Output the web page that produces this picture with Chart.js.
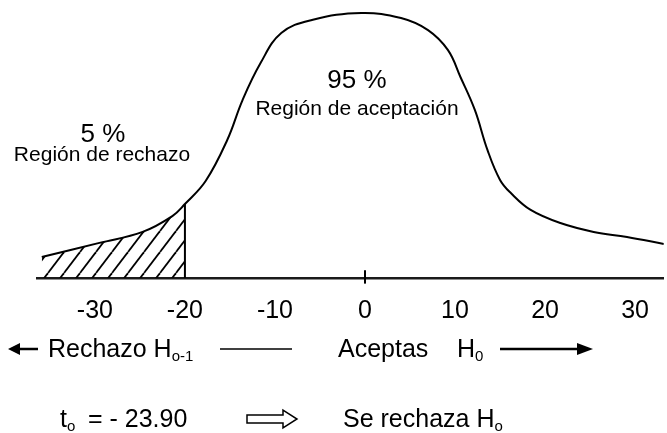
<!DOCTYPE html>
<html>
<head>
<meta charset="utf-8">
<script src="https://cdn.jsdelivr.net/npm/chart.js@4.4.0/dist/chart.umd.min.js"></script>
<style>
  html, body { margin: 0; padding: 0; background: #fff; }
  canvas { display: block; }
</style>
</head>
<body>
<canvas id="tchart" width="667" height="433"></canvas>
<script>
// curve (t value, height of the density in %)
const curveX = [-35.9, -29.5, -24.7, -21.4, -20, -17.7, -15.3, -13.6, -11.6, -9.3, -5.9, -0.4, 4.0, 7.0, 9.2, 10.6, 12.2, 13.6, 15.0, 16.2, 18.4, 21.7, 25.4, 29.1, 33.2];
const curveY = [7.8, 13.1, 17.2, 23.1, 27.6, 36.2, 51.5, 66.4, 80.2, 91.4, 96.3, 98.9, 97.0, 92.5, 85.1, 75.0, 62.7, 47.8, 36.6, 31.7, 25.4, 20.5, 17.2, 15.3, 12.7];
const criticalT = -20;
const tickValues = [-30, -20, -10, 0, 10, 20, 30];

const FONT = '"Liberation Sans", Arial, sans-serif';

const curve = curveX.map((x, i) => ({ x: x, y: curveY[i] }));
const rejectPart = curve.filter(p => p.x <= criticalT);
const critIdx = curveX.indexOf(criticalT);

// diagonal hatch for the rejection region
function makeHatch() {
  const w = 16, h = 21;
  const c = document.createElement('canvas');
  c.width = w; c.height = h;
  const g = c.getContext('2d');
  g.strokeStyle = '#000';
  g.lineWidth = 1.8;
  for (let k = -1; k <= 1; k++) {
    g.beginPath();
    g.moveTo(k * w, h);
    g.lineTo(k * w + w, 0);
    g.stroke();
  }
  return g.createPattern(c, 'repeat');
}

function sub(ctx, main, small, x, y, size) {
  ctx.font = size + 'px ' + FONT;
  ctx.fillText(main, x, y);
  const w = ctx.measureText(main).width;
  ctx.font = Math.round(size * 0.6) + 'px ' + FONT;
  ctx.fillText(small, x + w, y + 4);
}

const annotations = {
  id: 'annotations',
  afterDraw(chart) {
    const ctx = chart.ctx;
    ctx.save();
    ctx.fillStyle = '#000';
    ctx.strokeStyle = '#000';
    ctx.textBaseline = 'alphabetic';

    ctx.textAlign = 'center';
    ctx.font = '26px ' + FONT;
    ctx.fillText('95 %', 357, 88);
    ctx.fillText('5 %', 103, 142);
    ctx.font = '21px ' + FONT;
    ctx.fillText('Región de aceptación', 357, 115);
    ctx.fillText('Región de rechazo', 102, 161);

    ctx.textAlign = 'left';
    // row under the axis
    ctx.lineWidth = 2.5;
    ctx.beginPath(); ctx.moveTo(16, 349); ctx.lineTo(38, 349); ctx.stroke();
    ctx.beginPath(); ctx.moveTo(8, 349); ctx.lineTo(20, 343); ctx.lineTo(20, 355); ctx.closePath(); ctx.fill();
    sub(ctx, 'Rechazo H', 'o-1', 48, 357, 25);
    ctx.lineWidth = 1.5;
    ctx.beginPath(); ctx.moveTo(220, 349); ctx.lineTo(292, 349); ctx.stroke();
    ctx.font = '25px ' + FONT;
    ctx.fillText('Aceptas', 338, 357);
    sub(ctx, 'H', '0', 457, 357, 25);
    ctx.lineWidth = 2.5;
    ctx.beginPath(); ctx.moveTo(500, 349); ctx.lineTo(580, 349); ctx.stroke();
    ctx.beginPath(); ctx.moveTo(593, 349); ctx.lineTo(577, 343); ctx.lineTo(577, 355); ctx.closePath(); ctx.fill();

    // result row
    sub(ctx, 't', 'o', 60, 427, 25);
    ctx.font = '25px ' + FONT;
    ctx.fillText('= - 23.90', 88, 427);
    ctx.lineWidth = 1.5;
    ctx.beginPath();
    ctx.moveTo(247, 415); ctx.lineTo(283, 415); ctx.lineTo(283, 410);
    ctx.lineTo(297, 419); ctx.lineTo(283, 428); ctx.lineTo(283, 423);
    ctx.lineTo(247, 423); ctx.closePath(); ctx.stroke();
    sub(ctx, 'Se rechaza H', 'o', 343, 427, 25);
    ctx.restore();
  }
};

new Chart(document.getElementById('tchart'), {
  type: 'line',
  data: {
    datasets: [
      {
        data: curve,
        borderColor: '#000',
        borderWidth: 2,
        pointRadius: 0,
        fill: false,
        tension: 0.4
      },
      {
        data: rejectPart,
        borderWidth: 0,
        borderColor: 'rgba(0,0,0,0)',
        backgroundColor: makeHatch(),
        pointRadius: 0,
        fill: 'origin',
        tension: 0.4
      },
      {
        data: [{ x: criticalT, y: 0 }, { x: criticalT, y: curveY[critIdx] }],
        borderColor: '#000',
        borderWidth: 2,
        pointRadius: 0,
        fill: false
      },
      {
        // tick mark at t = 0
        data: [{ x: 0, y: -2.1 }, { x: 0, y: 2.9 }],
        borderColor: '#000',
        borderWidth: 2,
        pointRadius: 0,
        fill: false,
        clip: false
      }
    ]
  },
  options: {
    responsive: false,
    devicePixelRatio: 1,
    animation: false,
    layout: { padding: { left: 37, right: 0, top: 10, bottom: 0 } },
    plugins: { legend: { display: false }, tooltip: { enabled: false } },
    scales: {
      x: {
        type: 'linear',
        min: -36.43,
        max: 33.18,
        afterBuildTicks: scale => { scale.ticks = tickValues.map(v => ({ value: v })); },
        afterFit: scale => { scale.height = 155; },
        grid: { display: true, drawOnChartArea: false, drawTicks: false, color: 'rgba(0,0,0,0)' },
        border: { display: true, color: '#1a1a1a', width: 2.5 },
        ticks: {
          padding: 18,
          color: '#000',
          font: { family: FONT, size: 25 },
          maxRotation: 0,
          autoSkip: false
        }
      },
      y: { display: false, min: 0, max: 100 }
    }
  },
  plugins: [annotations]
});
</script>
</body>
</html>
